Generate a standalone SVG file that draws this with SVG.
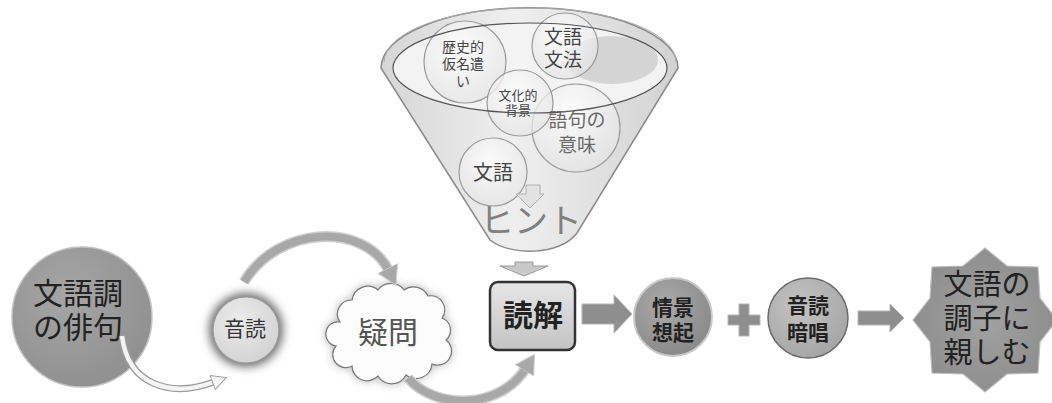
<svg xmlns="http://www.w3.org/2000/svg" width="1052" height="403" viewBox="0 0 1052 403">
<style>
text{font-family:"Liberation Sans","Noto Sans CJK JP",sans-serif;text-anchor:middle;}
.dark{fill:#222;}
.mid{fill:#444;}
.bubble{fill:url(#gBubble);stroke:#9a9a9a;stroke-width:1.2;}
.blk{fill:#8e8e8e;stroke:#b5b5b5;stroke-width:1;}
</style>
<defs>
<radialGradient id="gBig" cx="0.4" cy="0.35" r="0.7">
<stop offset="0" stop-color="#a6a6a6"/><stop offset="1" stop-color="#8f8f8f"/>
</radialGradient>
<radialGradient id="gBubble" cx="0.45" cy="0.35" r="0.7">
<stop offset="0" stop-color="#ffffff" stop-opacity="0.85"/><stop offset="1" stop-color="#e2e2e2" stop-opacity="0.7"/>
</radialGradient>
<linearGradient id="gFunnel" x1="0" y1="0" x2="1" y2="0">
<stop offset="0" stop-color="#d6d6d6"/><stop offset="0.45" stop-color="#efefef"/><stop offset="1" stop-color="#d2d2d2"/>
</linearGradient>
<linearGradient id="gBox" x1="0" y1="0" x2="0" y2="1">
<stop offset="0" stop-color="#e6e6e6"/><stop offset="1" stop-color="#c4c4c4"/>
</linearGradient>
<radialGradient id="gGray" cx="0.4" cy="0.35" r="0.75">
<stop offset="0" stop-color="#ababab"/><stop offset="1" stop-color="#858585"/>
</radialGradient>
<radialGradient id="gLight" cx="0.4" cy="0.35" r="0.75">
<stop offset="0" stop-color="#c4c4c4"/><stop offset="1" stop-color="#a2a2a2"/>
</radialGradient>
<radialGradient id="gOndoku" cx="0.4" cy="0.35" r="0.75">
<stop offset="0" stop-color="#ececec"/><stop offset="1" stop-color="#d0d0d0"/>
</radialGradient>
<radialGradient id="gStar" cx="0.5" cy="0.5" r="0.6">
<stop offset="0" stop-color="#a2a2a2"/><stop offset="1" stop-color="#8a8a8a"/>
</radialGradient>
<filter id="blur6" x="-50%" y="-50%" width="200%" height="200%"><feGaussianBlur stdDeviation="5"/></filter>
<marker id="hGray" markerUnits="userSpaceOnUse" viewBox="0 0 20 22" markerWidth="20" markerHeight="22" refX="3" refY="11" orient="auto">
<path d="M0,0 L19,11 L0,22 Z" fill="#a8a8a8" stroke="#d0d0d0" stroke-width="1"/>
</marker>
<marker id="hWhite" markerUnits="userSpaceOnUse" viewBox="0 0 16 16" markerWidth="16" markerHeight="16" refX="2" refY="8" orient="auto">
<path d="M0.5,0.5 L15,8 L0.5,15.5 Z" fill="#f4f4f4" stroke="#9a9a9a" stroke-width="1"/>
</marker>
</defs>

<rect width="1052" height="403" fill="#ffffff"/>

<g id="funnel">
<path d="M381,68 A148,60 0 0 1 678,68 L577,233 C560,256 510,256 490,240 Z" fill="url(#gFunnel)" stroke="#8a8a8a" stroke-width="1.5"/>
<ellipse cx="530" cy="68" rx="137" ry="45" fill="#f3f3f3"/>
<ellipse cx="612" cy="60" rx="46" ry="24" fill="#d4d4d4"/>
<circle class="bubble" cx="465" cy="62" r="41"/>
<circle class="bubble" cx="565" cy="46" r="33"/>
<circle class="bubble" cx="576" cy="128" r="44"/>
<circle class="bubble" cx="520" cy="103" r="33"/>
<circle class="bubble" cx="493" cy="172" r="34"/>
<ellipse cx="530" cy="68" rx="137" ry="45" fill="none" stroke="#555" stroke-width="1.2"/>
<path d="M384,62 A146,54 0 0 1 676,62" fill="none" stroke="#aaa" stroke-width="1"/>
<text font-size="14" class="mid"><tspan x="463" y="52">歴史的</tspan><tspan x="463" y="69">仮名遣</tspan><tspan x="463" y="86">い</tspan></text>
<text font-size="19" class="mid"><tspan x="563" y="44">文語</tspan><tspan x="563" y="67">文法</tspan></text>
<text font-size="13" class="mid"><tspan x="518" y="100">文化的</tspan><tspan x="518" y="115">背景</tspan></text>
<text font-size="19" fill="#6a6a6a"><tspan x="577" y="127">語句の</tspan><tspan x="577" y="152">意味</tspan></text>
<text x="493" y="180" font-size="20" class="mid">文語</text>
<path d="M526,185 L540,185 L540,194 L544,194 L530,208 L516,194 L526,194 Z" fill="#e2e2e2" stroke="#b0b0b0" stroke-width="1"/>
<text x="531" y="233" font-size="34" fill="#808080">ヒント</text>
</g>

<g id="node-haiku">
<circle cx="82" cy="317" r="70" fill="url(#gBig)" stroke="#c2c2c2" stroke-width="1.5"/>
<text font-size="30" class="dark"><tspan x="78" y="304">文語調</tspan><tspan x="78" y="338">の俳句</tspan></text>
</g>

<g id="node-ondoku">
<circle cx="246" cy="330" r="37" fill="#6a6a6a" filter="url(#blur6)"/>
<circle cx="246" cy="330" r="33" fill="url(#gOndoku)" stroke="#9a9a9a" stroke-width="1.2"/>
<text x="245" y="336" font-size="21" fill="#333">音読</text>
</g>

<g id="node-gimon">
<path d="M340,322 A14,14 0 0 1 352,300 A16,16 0 0 1 378,290 A16,16 0 0 1 404,290 A16,16 0 0 1 428,296 A14,14 0 0 1 442,318 A13,13 0 0 1 446,340 A14,14 0 0 1 432,364 A16,16 0 0 1 406,375 A16,16 0 0 1 378,376 A15,15 0 0 1 352,366 A13,13 0 0 1 336,346 A12,12 0 0 1 340,322 Z" fill="#aaa" filter="url(#blur6)"/>
<path d="M340,322 A14,14 0 0 1 352,300 A16,16 0 0 1 378,290 A16,16 0 0 1 404,290 A16,16 0 0 1 428,296 A14,14 0 0 1 442,318 A13,13 0 0 1 446,340 A14,14 0 0 1 432,364 A16,16 0 0 1 406,375 A16,16 0 0 1 378,376 A15,15 0 0 1 352,366 A13,13 0 0 1 336,346 A12,12 0 0 1 340,322 Z" fill="#fcfcfc" stroke="#777" stroke-width="1.2"/>
<text x="388" y="343" font-size="30" fill="#555">疑問</text>
</g>

<g id="node-dokkai">
<rect x="490" y="282" width="85" height="68" rx="8" fill="url(#gBox)" stroke="#333" stroke-width="2.5"/>
<text x="533" y="326" font-size="30" font-weight="bold" class="dark">読解</text>
</g>

<g id="node-jokei">
<circle cx="673" cy="317" r="39" fill="url(#gGray)" stroke="#c8c8c8" stroke-width="2"/>
<text font-size="21" font-weight="bold" class="dark"><tspan x="673" y="315">情景</tspan><tspan x="673" y="340">想起</tspan></text>
</g>

<g id="node-anshou">
<circle cx="808" cy="318" r="40" fill="url(#gLight)" stroke="#6a6a6a" stroke-width="1.5"/>
<text font-size="21" font-weight="bold" class="dark"><tspan x="808" y="313">音読</tspan><tspan x="808" y="340">暗唱</tspan></text>
</g>

<g id="node-goal">
<path d="M985,248 L1007,266 L1038,267 L1040,298 L1057,320 L1040,342 L1038,373 L1007,374 L985,392 L963,374 L932,373 L930,342 L913,320 L930,298 L932,267 L963,266 Z" fill="url(#gStar)" stroke="#bdbdbd" stroke-width="1.2"/>
<text font-size="29" class="dark"><tspan x="987" y="295">文語の</tspan><tspan x="987" y="329">調子に</tspan><tspan x="987" y="363">親しむ</tspan></text>
</g>

<g id="connectors">
<path d="M122,336 C128,385 170,398 214,382" fill="none" stroke="#9a9a9a" stroke-width="7"/>
<path d="M122,336 C128,385 170,398 214,382" fill="none" stroke="#f4f4f4" stroke-width="4.5" marker-end="url(#hWhite)"/>
<path d="M244,282 C278,225 365,222 389,271" fill="none" stroke="#d0d0d0" stroke-width="11"/>
<path d="M244,282 C278,225 365,222 389,271" fill="none" stroke="#a8a8a8" stroke-width="8" marker-end="url(#hGray)"/>
<path d="M408,378 C435,410 500,410 526,368" fill="none" stroke="#d0d0d0" stroke-width="11"/>
<path d="M408,378 C435,410 500,410 526,368" fill="none" stroke="#a8a8a8" stroke-width="8" marker-end="url(#hGray)"/>
<path d="M515,262 L533,262 L533,266 L548,266 L524,276 L500,266 L515,266 Z" fill="#c8c8c8" stroke="#9a9a9a" stroke-width="1"/>
<path d="M582,304 L614,304 L614,295 L632,314 L614,333 L614,324 L582,324 Z" class="blk"/>
<path d="M739,304 L749,304 L749,315 L760,315 L760,325 L749,325 L749,336 L739,336 L739,325 L728,325 L728,315 L739,315 Z" class="blk"/>
<path d="M858,311 L890,311 L890,304 L904,318 L890,332 L890,325 L858,325 Z" class="blk"/>
</g>
</svg>
